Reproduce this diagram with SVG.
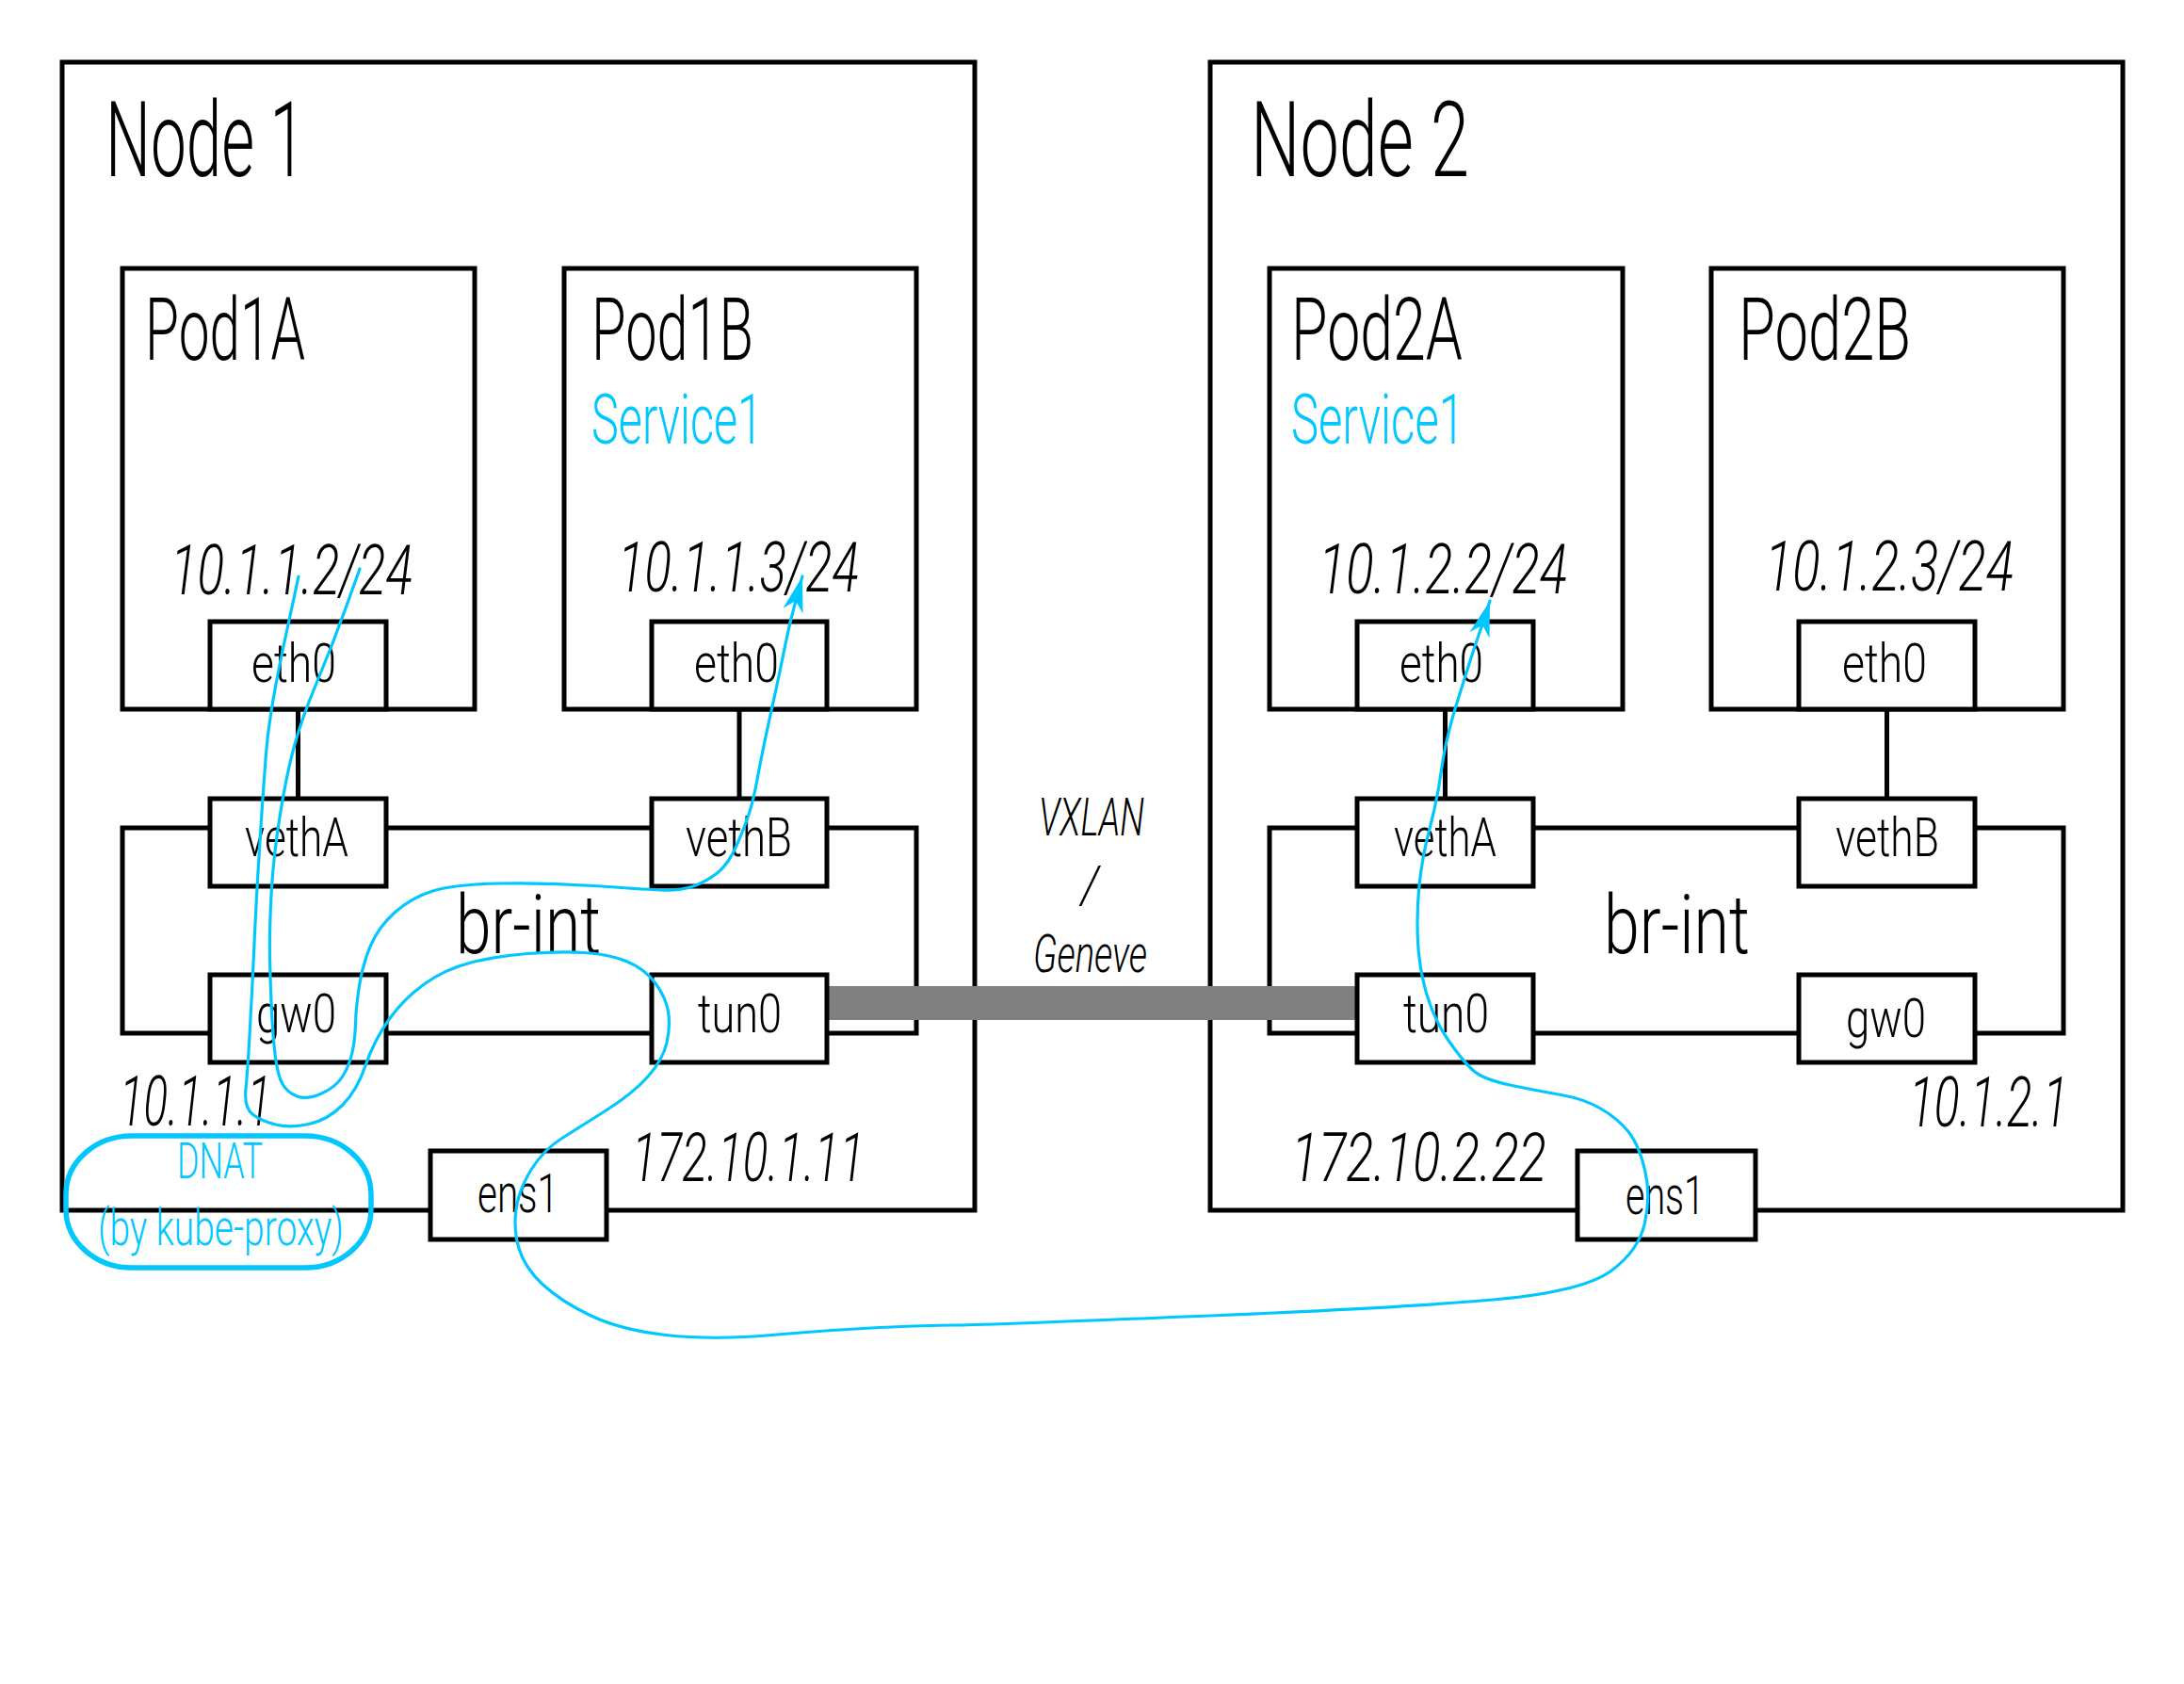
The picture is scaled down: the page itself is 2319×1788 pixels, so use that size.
<svg xmlns="http://www.w3.org/2000/svg" width="2319" height="1788" viewBox="0 0 2319 1788">
<style>
  .box { fill: none; stroke: #000; stroke-width: 5; }
  .ifc { fill: #fff; stroke: #000; stroke-width: 5; }
  .wire { fill: none; stroke: #000; stroke-width: 5; }
  .t { font-family: Roboto, "Liberation Sans", sans-serif; font-weight: 300; fill: #000; }
  .it { font-style: italic; }
  .blue { fill: #00c8ff; }
  .flow { fill: none; stroke: #00c8ff; stroke-width: 3.2; stroke-linecap: round; stroke-linejoin: round; }
  .dnat { fill: none; stroke: #00c8ff; stroke-width: 5.5; }
</style>
<defs>
  <marker id="arrow" markerUnits="userSpaceOnUse" markerWidth="50" markerHeight="40" viewBox="-45 -20 50 40" refX="0" refY="0" orient="auto">
    <path d="M0,0 L-38,-11 L-27,0 L-38,11 Z" fill="#00c8ff"/>
  </marker>
</defs>
<rect width="2319" height="1788" fill="#fff"/>

<g id="node1">
  <rect class="box" x="66" y="66" width="969" height="1219"/>
  <text class="t" x="112" y="187" font-size="112" textLength="212" lengthAdjust="spacingAndGlyphs">Node 1</text>
</g>
<g id="node2">
  <rect class="box" x="1285" y="66" width="969" height="1219"/>
  <text class="t" x="1328" y="187" font-size="112" textLength="232" lengthAdjust="spacingAndGlyphs">Node 2</text>
</g>

<g id="pod1a">
  <rect class="box" x="130" y="285" width="374" height="468"/>
  <text class="t" x="154" y="382" font-size="92" textLength="170" lengthAdjust="spacingAndGlyphs">Pod1A</text>
  <text class="t it" x="181" y="631" font-size="74" textLength="257" lengthAdjust="spacingAndGlyphs">10.1.1.2/24</text>
</g>
<g id="pod1b">
  <rect class="box" x="599" y="285" width="374" height="468"/>
  <text class="t" x="628" y="382" font-size="92" textLength="172" lengthAdjust="spacingAndGlyphs">Pod1B</text>
  <text class="t blue" x="628" y="471" font-size="74" textLength="182" lengthAdjust="spacingAndGlyphs">Service1</text>
  <text class="t it" x="656" y="628" font-size="74" textLength="256" lengthAdjust="spacingAndGlyphs">10.1.1.3/24</text>
</g>
<g id="pod2a">
  <rect class="box" x="1348" y="285" width="375" height="468"/>
  <text class="t" x="1371" y="382" font-size="92" textLength="182" lengthAdjust="spacingAndGlyphs">Pod2A</text>
  <text class="t blue" x="1371" y="471" font-size="74" textLength="184" lengthAdjust="spacingAndGlyphs">Service1</text>
  <text class="t it" x="1400" y="630" font-size="74" textLength="264" lengthAdjust="spacingAndGlyphs">10.1.2.2/24</text>
</g>
<g id="pod2b">
  <rect class="box" x="1817" y="285" width="374" height="468"/>
  <text class="t" x="1846" y="382" font-size="92" textLength="183" lengthAdjust="spacingAndGlyphs">Pod2B</text>
  <text class="t it" x="1874" y="627" font-size="74" textLength="264" lengthAdjust="spacingAndGlyphs">10.1.2.3/24</text>
</g>

<g id="brint1">
  <rect class="box" x="130" y="879" width="843" height="218"/>
  <text class="t" x="484" y="1012" font-size="88" textLength="154" lengthAdjust="spacingAndGlyphs">br-int</text>
</g>
<g id="brint2">
  <rect class="box" x="1348" y="879" width="843" height="218"/>
  <text class="t" x="1703" y="1012" font-size="88" textLength="155" lengthAdjust="spacingAndGlyphs">br-int</text>
</g>

<g id="connectors">
  <line class="wire" x1="316.5" y1="753" x2="316.5" y2="848"/>
  <line class="wire" x1="785" y1="753" x2="785" y2="848"/>
  <line class="wire" x1="1534.5" y1="753" x2="1534.5" y2="848"/>
  <line class="wire" x1="2003.5" y1="753" x2="2003.5" y2="848"/>
  <rect id="tunnel" x="880" y="1047" width="561" height="36" fill="#808080"/>
</g>

<g id="eth0-1a"><rect class="ifc" x="223" y="660" width="187" height="93"/><text class="t" x="267" y="723.5" font-size="57" textLength="90" lengthAdjust="spacingAndGlyphs">eth0</text></g>
<g id="eth0-1b"><rect class="ifc" x="692" y="660" width="186" height="93"/><text class="t" x="737" y="723.5" font-size="57" textLength="90" lengthAdjust="spacingAndGlyphs">eth0</text></g>
<g id="eth0-2a"><rect class="ifc" x="1441" y="660" width="187" height="93"/><text class="t" x="1486" y="723.5" font-size="57" textLength="89" lengthAdjust="spacingAndGlyphs">eth0</text></g>
<g id="eth0-2b"><rect class="ifc" x="1910" y="660" width="187" height="93"/><text class="t" x="1956" y="723.5" font-size="57" textLength="90" lengthAdjust="spacingAndGlyphs">eth0</text></g>

<g id="vetha-1"><rect class="ifc" x="223" y="848" width="187" height="93"/><text class="t" x="260" y="909" font-size="57" textLength="110" lengthAdjust="spacingAndGlyphs">vethA</text></g>
<g id="vethb-1"><rect class="ifc" x="692" y="848" width="186" height="93"/><text class="t" x="728" y="909" font-size="57" textLength="113" lengthAdjust="spacingAndGlyphs">vethB</text></g>
<g id="vetha-2"><rect class="ifc" x="1441" y="848" width="187" height="93"/><text class="t" x="1480" y="909" font-size="57" textLength="109" lengthAdjust="spacingAndGlyphs">vethA</text></g>
<g id="vethb-2"><rect class="ifc" x="1910" y="848" width="187" height="93"/><text class="t" x="1949" y="909" font-size="57" textLength="110" lengthAdjust="spacingAndGlyphs">vethB</text></g>

<g id="gw0-1"><rect class="ifc" x="223" y="1035" width="187" height="93"/><text class="t" x="272" y="1096" font-size="57" textLength="85" lengthAdjust="spacingAndGlyphs">gw0</text></g>
<g id="tun0-1"><rect class="ifc" x="692" y="1035" width="186" height="93"/><text class="t" x="741" y="1096" font-size="57" textLength="89" lengthAdjust="spacingAndGlyphs">tun0</text></g>
<g id="tun0-2"><rect class="ifc" x="1441" y="1035" width="187" height="93"/><text class="t" x="1490" y="1096" font-size="57" textLength="91" lengthAdjust="spacingAndGlyphs">tun0</text></g>
<g id="gw0-2"><rect class="ifc" x="1910" y="1035" width="187" height="93"/><text class="t" x="1960" y="1101" font-size="57" textLength="85" lengthAdjust="spacingAndGlyphs">gw0</text></g>

<g id="ens1-1"><rect class="ifc" x="457" y="1222" width="187" height="94"/><text class="t" x="507" y="1287" font-size="57" textLength="86" lengthAdjust="spacingAndGlyphs">ens1</text></g>
<g id="ens1-2"><rect class="ifc" x="1675" y="1222" width="189" height="94"/><text class="t" x="1726" y="1289" font-size="57" textLength="84" lengthAdjust="spacingAndGlyphs">ens1</text></g>

<g id="addr-labels">
  <text class="t it" x="127" y="1195" font-size="74" textLength="161" lengthAdjust="spacingAndGlyphs">10.1.1.1</text>
  <text class="t it" x="2027" y="1196" font-size="74" textLength="169" lengthAdjust="spacingAndGlyphs">10.1.2.1</text>
  <text class="t it" x="671" y="1254" font-size="72" textLength="247" lengthAdjust="spacingAndGlyphs">172.10.1.11</text>
  <text class="t it" x="1371" y="1254" font-size="72" textLength="271" lengthAdjust="spacingAndGlyphs">172.10.2.22</text>
</g>

<g id="tunnel-label">
  <text class="t it" x="1103" y="887" font-size="56" textLength="112" lengthAdjust="spacingAndGlyphs">VXLAN</text>
  <text class="t it" x="1148" y="959" font-size="56" textLength="19" lengthAdjust="spacingAndGlyphs">/</text>
  <text class="t it" x="1097" y="1032" font-size="56" textLength="121" lengthAdjust="spacingAndGlyphs">Geneve</text>
</g>

<g id="dnat">
  <rect class="dnat" x="70" y="1206" width="324" height="140" rx="70" ry="62"/>
  <text class="t blue" x="188" y="1251" font-size="54" textLength="91" lengthAdjust="spacingAndGlyphs">DNAT</text>
  <text class="t blue" x="104" y="1322" font-size="54" textLength="261" lengthAdjust="spacingAndGlyphs">(by kube-proxy)</text>
</g>

<g id="flows">
  <path id="flow-pod1a-pod1b" class="flow" marker-end="url(#arrow)" d="M382,604 L367.5,644.5 Q353,685 337,723 Q321,761 312.5,792 Q304,823 297,867.5 Q290,912 288,950 Q286,988 286.5,1017 Q287,1046 288.5,1075 Q290,1104 292.5,1123 Q295,1142 300,1151 Q305,1160 315.5,1164 Q326,1168 341.5,1161 Q357,1154 364,1142.5 Q371,1131 374,1117.5 Q377,1104 377.5,1086.5 Q378,1069 381.5,1046.5 Q385,1024 393.5,1004 Q402,984 419.5,968.5 Q437,953 459.5,946 Q482,939 531,938 Q580,937 630,940.5 Q680,944 701,945 Q722,946 736,941 Q750,936 761.5,927 Q773,918 781.5,899 Q790,880 795,865 Q800,850 804.5,825 Q809,800 818.5,757 Q828,714 833,688.5 Q838,663 845,637.5 L852,612"/>
  <path id="flow-pod1a-pod2a" class="flow" marker-end="url(#arrow)" d="M317,612 L301.5,684 Q286,756 282.5,800.5 Q279,845 275.5,901 Q272,957 270,1001.5 Q268,1046 265.5,1091 Q263,1136 261,1156 Q259,1176 268,1183 Q277,1190 292.5,1194 Q308,1198 328,1193.5 Q348,1189 363.5,1173.5 Q379,1158 388,1131.5 Q397,1105 413,1082.5 Q429,1060 451,1044.5 Q473,1029 500,1022 Q527,1015 560.5,1012.5 Q594,1010 620.5,1011.5 Q647,1013 666,1021 Q685,1029 696,1044 Q707,1059 709.5,1074 Q712,1089 708,1107 Q704,1125 688,1143 Q672,1161 643.5,1179 Q615,1197 596,1209 Q577,1221 564,1242 Q551,1263 548,1284 Q545,1305 551,1325.5 Q557,1346 576.5,1364 Q596,1382 627.5,1397 Q659,1412 707,1417.5 Q755,1423 819,1417.5 Q883,1412 934,1409.5 Q985,1407 1013.5,1407 Q1042,1407 1271,1397.5 Q1500,1388 1590.5,1379.5 Q1681,1371 1710.5,1349.5 Q1740,1328 1746.5,1298.5 Q1753,1269 1746.5,1242 Q1740,1215 1729,1201.5 Q1718,1188 1700.5,1177.5 Q1683,1167 1657.5,1162.5 Q1632,1158 1603,1152 Q1574,1146 1563,1135.5 Q1552,1125 1537.5,1104 Q1523,1083 1515,1056 Q1507,1029 1505.5,999.5 Q1504,970 1507,940 Q1510,910 1518,880 Q1526,850 1530.5,817.5 Q1535,785 1546,749.5 Q1557,714 1564,692.5 Q1571,671 1577,654.5 L1582,638"/>
</g>
</svg>
